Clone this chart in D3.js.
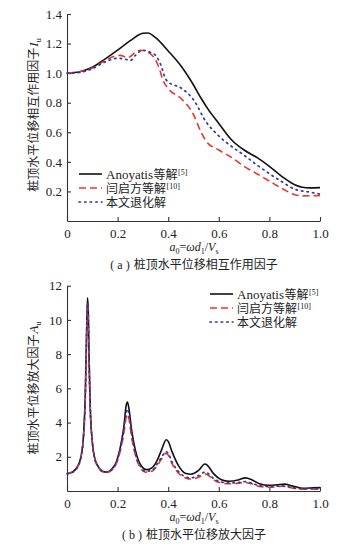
<!DOCTYPE html>
<html>
<head>
<meta charset="utf-8">
<script src="https://cdn.jsdelivr.net/npm/d3@7"></script>
<style>
  body { margin: 0; background: #fff; }
  svg { display: block; }
</style>
</head>
<body>
<svg id="chart" width="361" height="554"></svg>
<script>
// ---- data ----
const xTicks = [0, 0.2, 0.4, 0.6, 0.8, 1.0];
const ticksA = [0.2, 0.4, 0.6, 0.8, 1.0, 1.2, 1.4];
const ticksB = [2, 4, 6, 8, 10, 12];
const seriesLatin = ["Anoyatis", "", ""];
const seriesNames = ["等解", "闫启方等解", "本文退化解"];
const seriesRefs = ["[5]", "[10]", ""];

// (a) interaction factor Iu
const anoyatisA = [[0,1.0],[0.05,1.01],[0.1,1.04],[0.15,1.095],[0.2,1.155],[0.25,1.22],[0.3,1.27],[0.32,1.272],[0.35,1.24],[0.4,1.15],[0.45,1.05],[0.5,0.92],[0.53,0.83],[0.56,0.75],[0.6,0.66],[0.65,0.55],[0.7,0.48],[0.75,0.43],[0.8,0.37],[0.85,0.3],[0.9,0.245],[0.93,0.228],[0.96,0.224],[1.0,0.226]];
const yanA = [[0,1.0],[0.05,1.01],[0.1,1.035],[0.15,1.085],[0.19,1.115],[0.21,1.12],[0.24,1.105],[0.27,1.14],[0.29,1.155],[0.31,1.15],[0.33,1.13],[0.35,1.09],[0.365,1.03],[0.38,0.95],[0.4,0.895],[0.45,0.83],[0.5,0.72],[0.53,0.6],[0.55,0.54],[0.6,0.48],[0.65,0.43],[0.7,0.37],[0.75,0.32],[0.8,0.27],[0.85,0.22],[0.9,0.178],[0.93,0.17],[1.0,0.172]];
const presentA = [[0,1.0],[0.05,1.005],[0.1,1.03],[0.15,1.075],[0.2,1.1],[0.23,1.095],[0.25,1.085],[0.27,1.12],[0.3,1.155],[0.33,1.14],[0.35,1.12],[0.37,1.06],[0.39,0.96],[0.4,0.94],[0.45,0.9],[0.5,0.82],[0.55,0.67],[0.6,0.575],[0.65,0.505],[0.7,0.445],[0.75,0.38],[0.8,0.32],[0.85,0.265],[0.9,0.215],[0.95,0.198],[1.0,0.182]];

// (b) amplification factor Au
const anoyatisB = [[0,1.02],[0.02,1.1],[0.04,1.4],[0.055,2.0],[0.065,3.2],[0.072,5.5],[0.077,9.0],[0.081,11.3],[0.084,10.6],[0.087,8.0],[0.092,4.9],[0.1,2.9],[0.11,1.9],[0.125,1.4],[0.14,1.15],[0.157,1.1],[0.175,1.25],[0.195,1.7],[0.21,2.5],[0.225,3.8],[0.234,5.0],[0.239,5.2],[0.245,4.8],[0.255,3.6],[0.27,2.4],[0.29,1.55],[0.315,1.25],[0.335,1.35],[0.355,1.75],[0.375,2.45],[0.392,3.0],[0.4,2.9],[0.415,2.3],[0.44,1.5],[0.47,1.02],[0.49,0.98],[0.52,1.2],[0.545,1.58],[0.555,1.5],[0.58,1.0],[0.61,0.66],[0.64,0.57],[0.68,0.66],[0.705,0.77],[0.73,0.66],[0.76,0.43],[0.8,0.33],[0.83,0.36],[0.86,0.4],[0.89,0.3],[0.93,0.16],[0.97,0.18],[1.0,0.2]];
const yanB = [[0,1.0],[0.02,1.08],[0.04,1.35],[0.055,1.95],[0.065,3.1],[0.072,5.2],[0.077,8.6],[0.081,10.9],[0.084,10.2],[0.087,7.6],[0.092,4.7],[0.1,2.8],[0.11,1.85],[0.125,1.35],[0.14,1.12],[0.157,1.08],[0.175,1.2],[0.195,1.6],[0.21,2.3],[0.225,3.4],[0.234,4.3],[0.239,4.5],[0.245,4.2],[0.255,3.2],[0.27,2.1],[0.29,1.35],[0.31,1.1],[0.335,1.15],[0.355,1.45],[0.375,1.9],[0.39,2.2],[0.4,2.1],[0.415,1.6],[0.44,1.05],[0.47,0.75],[0.49,0.7],[0.52,0.8],[0.545,1.0],[0.555,0.95],[0.58,0.65],[0.61,0.47],[0.64,0.42],[0.68,0.46],[0.7,0.5],[0.73,0.42],[0.76,0.27],[0.8,0.22],[0.83,0.25],[0.85,0.28],[0.89,0.18],[0.93,0.1],[0.97,0.1],[1.0,0.1]];
const presentB = [[0,1.0],[0.02,1.08],[0.04,1.37],[0.055,1.97],[0.065,3.15],[0.072,5.3],[0.077,8.8],[0.081,11.0],[0.084,10.4],[0.087,7.8],[0.092,4.8],[0.1,2.85],[0.11,1.88],[0.125,1.38],[0.14,1.14],[0.157,1.1],[0.175,1.22],[0.195,1.65],[0.21,2.4],[0.225,3.6],[0.234,4.6],[0.239,4.8],[0.245,4.5],[0.255,3.4],[0.27,2.2],[0.29,1.45],[0.31,1.15],[0.335,1.2],[0.355,1.55],[0.375,2.0],[0.39,2.3],[0.4,2.2],[0.415,1.7],[0.44,1.15],[0.47,0.82],[0.49,0.77],[0.52,0.9],[0.545,1.1],[0.555,1.05],[0.58,0.72],[0.61,0.52],[0.64,0.47],[0.68,0.5],[0.7,0.55],[0.73,0.46],[0.76,0.31],[0.8,0.27],[0.83,0.28],[0.85,0.3],[0.89,0.2],[0.93,0.13],[0.97,0.14],[1.0,0.15]];

const styles = [
  { stroke: "#111", dash: null, width: 1.6 },
  { stroke: "#e8352e", dash: "7,4", width: 1.6 },
  { stroke: "#2d3a9c", dash: "1.4,4.2", width: 1.7 }
];

const svg = d3.select("#chart");
const serif = "Liberation Serif, DejaVu Serif, serif";
const cjk = "Noto Sans CJK SC, sans-serif";

// place a run of text pieces one after another, each as its own <text>
function textRun(parent, x, y, pieces) {
  let cx = x;
  pieces.forEach(p => {
    if (!p.text) return;
    const t = parent.append("text")
      .attr("x", cx).attr("y", y + (p.dy || 0))
      .attr("fill", "#222")
      .attr("font-family", p.font)
      .attr("font-size", p.size)
      .attr("font-style", p.italic ? "italic" : null)
      .text(p.text);
    cx += t.node().getComputedTextLength() + (p.gap || 0);
  });
  return cx - x;
}

function drawPanel(cfg) {
  const g = svg.append("g");
  const x = d3.scaleLinear().domain([0, 1]).range([67, 320]);
  const y = d3.scaleLinear().domain(cfg.yDomain).range([cfg.bottom, cfg.top]);

  const gx = g.append("g").attr("transform", `translate(0,${cfg.bottom})`)
    .call(d3.axisBottom(x).tickValues(xTicks).tickSize(-4).tickSizeOuter(0).tickPadding(5)
      .tickFormat(d => d === 0 ? "0" : d3.format(".1f")(d)));
  const gy = g.append("g").attr("transform", "translate(67,0)")
    .call(d3.axisLeft(y).tickValues(cfg.yTicks).tickSize(-4).tickSizeOuter(0).tickPadding(5)
      .tickFormat(cfg.yFormat));
  [gx, gy].forEach(a => {
    a.attr("font-family", serif).attr("font-size", 13);
    a.selectAll("path,line").attr("stroke", "#333").attr("stroke-width", 1.1);
    a.selectAll("text").attr("fill", "#222");
  });
  gx.selectAll("text").attr("dy", "0.95em");

  const line = d3.line().x(d => x(d[0])).y(d => y(d[1])).curve(d3.curveMonotoneX);
  cfg.series.forEach((s, i) => {
    g.append("path").datum(s)
      .attr("fill", "none")
      .attr("stroke", styles[i].stroke)
      .attr("stroke-width", styles[i].width)
      .attr("stroke-dasharray", styles[i].dash)
      .attr("stroke-linecap", i === 2 ? "round" : "butt")
      .attr("d", line);
  });

  // legend
  const lg = g.append("g");
  seriesNames.forEach((name, i) => {
    const ly = cfg.legendY + i * 14;
    lg.append("line")
      .attr("x1", cfg.legendX).attr("x2", cfg.legendX + 23)
      .attr("y1", ly).attr("y2", ly)
      .attr("stroke", styles[i].stroke)
      .attr("stroke-width", styles[i].width)
      .attr("stroke-dasharray", styles[i].dash)
      .attr("stroke-linecap", i === 2 ? "round" : "butt");
    textRun(lg, cfg.legendX + 27, ly + 4.5, [
      { text: seriesLatin[i], font: serif, size: 13, gap: 0.5 },
      { text: name, font: cjk, size: 12, gap: 0.5 },
      { text: seriesRefs[i], font: serif, size: 8, dy: -4 }
    ]);
  });

  // y label (rotated)
  const yl = g.append("g").attr("transform", `translate(38,${cfg.yLabelY}) rotate(-90)`);
  const w = textRun(yl, 0, 0, [
    { text: cfg.yLabel, font: cjk, size: 12, gap: 1 },
    { text: cfg.yLabelSym, font: serif, size: 13, italic: true },
    { text: "u", font: serif, size: 8, dy: 3 }
  ]);
  yl.selectAll("text").attr("x", function () { return +d3.select(this).attr("x") - w / 2; });

  // x label: a0 = ωd1/Vs
  const xg = g.append("g");
  const xw = textRun(xg, 0, cfg.bottom + 30, [
    { text: "a", font: serif, size: 12, italic: true },
    { text: "0", font: serif, size: 8, dy: 3 },
    { text: "=", font: serif, size: 12 },
    { text: "ωd", font: serif, size: 12, italic: true },
    { text: "1", font: serif, size: 8, dy: 3 },
    { text: "/", font: serif, size: 12 },
    { text: "V", font: serif, size: 12, italic: true },
    { text: "s", font: serif, size: 8, dy: 3 }
  ]);
  xg.attr("transform", `translate(${194 - xw / 2},0)`);

  // caption
  const cg = g.append("g");
  const cw = textRun(cg, 0, cfg.bottom + 48, [
    { text: `( ${cfg.letter} )`, font: serif, size: 12, gap: 4 },
    { text: cfg.caption, font: cjk, size: 12 }
  ]);
  cg.attr("transform", `translate(${194 - cw / 2},0)`);
}

drawPanel({
  series: [anoyatisA, yanA, presentA],
  yDomain: [0, 1.4], yTicks: ticksA, yFormat: d3.format(".1f"),
  top: 14, bottom: 221,
  legendX: 79, legendY: 174,
  yLabel: "桩顶水平位移相互作用因子", yLabelSym: "I", yLabelY: 115,
  letter: "a", caption: "桩顶水平位移相互作用因子"
});

drawPanel({
  series: [anoyatisB, yanB, presentB],
  yDomain: [0, 12], yTicks: ticksB, yFormat: d3.format("d"),
  top: 285.7, bottom: 491,
  legendX: 210, legendY: 294,
  yLabel: "桩顶水平位移放大因子", yLabelSym: "A", yLabelY: 388,
  letter: "b", caption: "桩顶水平位移放大因子"
});
</script>
</body>
</html>
